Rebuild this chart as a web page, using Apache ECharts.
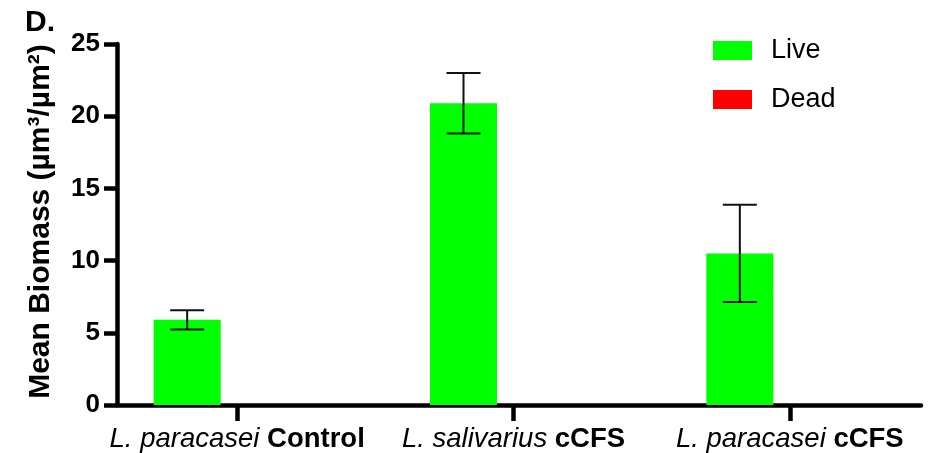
<!DOCTYPE html>
<html>
<head>
<meta charset="utf-8">
<script src="https://cdn.jsdelivr.net/npm/echarts@6/dist/echarts.min.js"></script>
<style>
  html, body { margin: 0; padding: 0; background: #fff; }
  #chart { width: 928px; height: 453px; }
</style>
</head>
<body>
<div id="chart"></div>
<script>
// Groups along the x axis: species name (italic) + treatment (bold)
const species = ['L. paracasei', 'L. salivarius', 'L. paracasei'];
const treatments = ['Control', 'cCFS', 'cCFS'];

// Mean biomass (µm³/µm²) and error half-widths
const liveMean = [5.9, 20.9, 10.5];
const liveErr = [0.67, 2.1, 3.37];
const deadMean = [0, 0, 0];

// Y axis ticks
const yTicks = [0, 5, 10, 15, 20, 25];

const categories = species.map((s, i) => s + ' ' + treatments[i]);

const FONT = '"Liberation Sans", Arial, sans-serif';
const BAR_W = 67;
const BAR_GAP_PX = 33;
const LIVE_OFFSET = -(BAR_W + BAR_GAP_PX) / 2;
const CAP_W = 34;
const AXIS_W = 4.5;

const chart = echarts.init(document.getElementById('chart'), null, { renderer: 'canvas' });

const yMin = yTicks[0], yMax = yTicks[yTicks.length - 1], yStep = yTicks[1] - yTicks[0];

chart.setOption({
  animation: false,
  backgroundColor: '#ffffff',
  title: {
    text: 'D.',
    left: 20, top: 3,
    textStyle: { fontFamily: FONT, fontWeight: 'bold', fontSize: 30, color: '#000' }
  },
  legend: {
    orient: 'vertical',
    left: 708, top: 32,
    itemWidth: 39, itemHeight: 19, itemGap: 22,
    icon: 'rect',
    data: ['Live', 'Dead'],
    textStyle: { fontFamily: FONT, fontSize: 27, color: '#000', padding: [0, 0, 0, 14] }
  },
  grid: [
    // frame for the axis lines and y scale
    { left: 117, right: 7, top: 44, bottom: 48, containLabel: false },
    // category bands for the bars
    { left: 99, width: 836, top: 44, bottom: 48, containLabel: false }
  ],
  xAxis: [
    {
      gridIndex: 0, type: 'value', min: 0, max: 1,
      axisLine: { show: true, lineStyle: { color: '#000', width: AXIS_W } },
      axisTick: { show: false }, axisLabel: { show: false }, splitLine: { show: false }
    },
    {
      gridIndex: 1, type: 'category', data: categories,
      axisLine: { show: false },
      axisTick: { show: true, alignWithLabel: true, length: 16, lineStyle: { color: '#000', width: AXIS_W } },
      axisLabel: {
        margin: 20,
        formatter: (v) => {
          const i = categories.indexOf(v);
          return '{i|' + species[i] + ' }{b|' + treatments[i] + '}';
        },
        rich: {
          i: { fontFamily: FONT, fontStyle: 'italic', fontSize: 27.5, color: '#000' },
          b: { fontFamily: FONT, fontWeight: 'bold', fontSize: 27.5, color: '#000' }
        }
      },
      splitLine: { show: false }
    }
  ],
  yAxis: [
    {
      gridIndex: 0, type: 'value', min: yMin, max: yMax, interval: yStep,
      name: 'Mean Biomass (µm³/µm²)',
      nameLocation: 'middle', nameGap: 61, nameRotate: 90,
      nameTextStyle: { fontFamily: FONT, fontWeight: 'bold', fontSize: 30, color: '#000', padding: [0, 0, 0, 6] },
      axisLine: { show: true, lineStyle: { color: '#000', width: AXIS_W } },
      axisTick: { show: true, inside: false, length: 13, lineStyle: { color: '#000', width: AXIS_W } },
      axisLabel: { fontFamily: FONT, fontWeight: 'bold', fontSize: 26, color: '#000', margin: 17 },
      splitLine: { show: false }
    },
    {
      gridIndex: 1, type: 'value', min: yMin, max: yMax, interval: yStep,
      show: false
    }
  ],
  series: [
    {
      name: 'Live', type: 'bar', xAxisIndex: 1, yAxisIndex: 1,
      data: liveMean, barWidth: BAR_W, barGap: (BAR_GAP_PX / BAR_W * 100) + '%',
      itemStyle: { color: '#00ff00' }
    },
    {
      name: 'Dead', type: 'bar', xAxisIndex: 1, yAxisIndex: 1,
      data: deadMean, barWidth: BAR_W,
      itemStyle: { color: '#ff0000' }
    },
    {
      name: 'Live error', type: 'custom', xAxisIndex: 1, yAxisIndex: 1,
      data: liveMean.map((m, i) => [i, m - liveErr[i], m + liveErr[i]]),
      z: 10,
      renderItem: (params, api) => {
        const lo = api.coord([api.value(0), api.value(1)]);
        const hi = api.coord([api.value(0), api.value(2)]);
        const x = lo[0] + LIVE_OFFSET;
        const style = { stroke: '#111', lineWidth: 2 };
        return {
          type: 'group',
          children: [
            { type: 'line', shape: { x1: x, y1: lo[1], x2: x, y2: hi[1] }, style },
            { type: 'line', shape: { x1: x - CAP_W / 2, y1: hi[1], x2: x + CAP_W / 2, y2: hi[1] }, style },
            { type: 'line', shape: { x1: x - CAP_W / 2, y1: lo[1], x2: x + CAP_W / 2, y2: lo[1] }, style }
          ]
        };
      }
    }
  ]
});
</script>
</body>
</html>
